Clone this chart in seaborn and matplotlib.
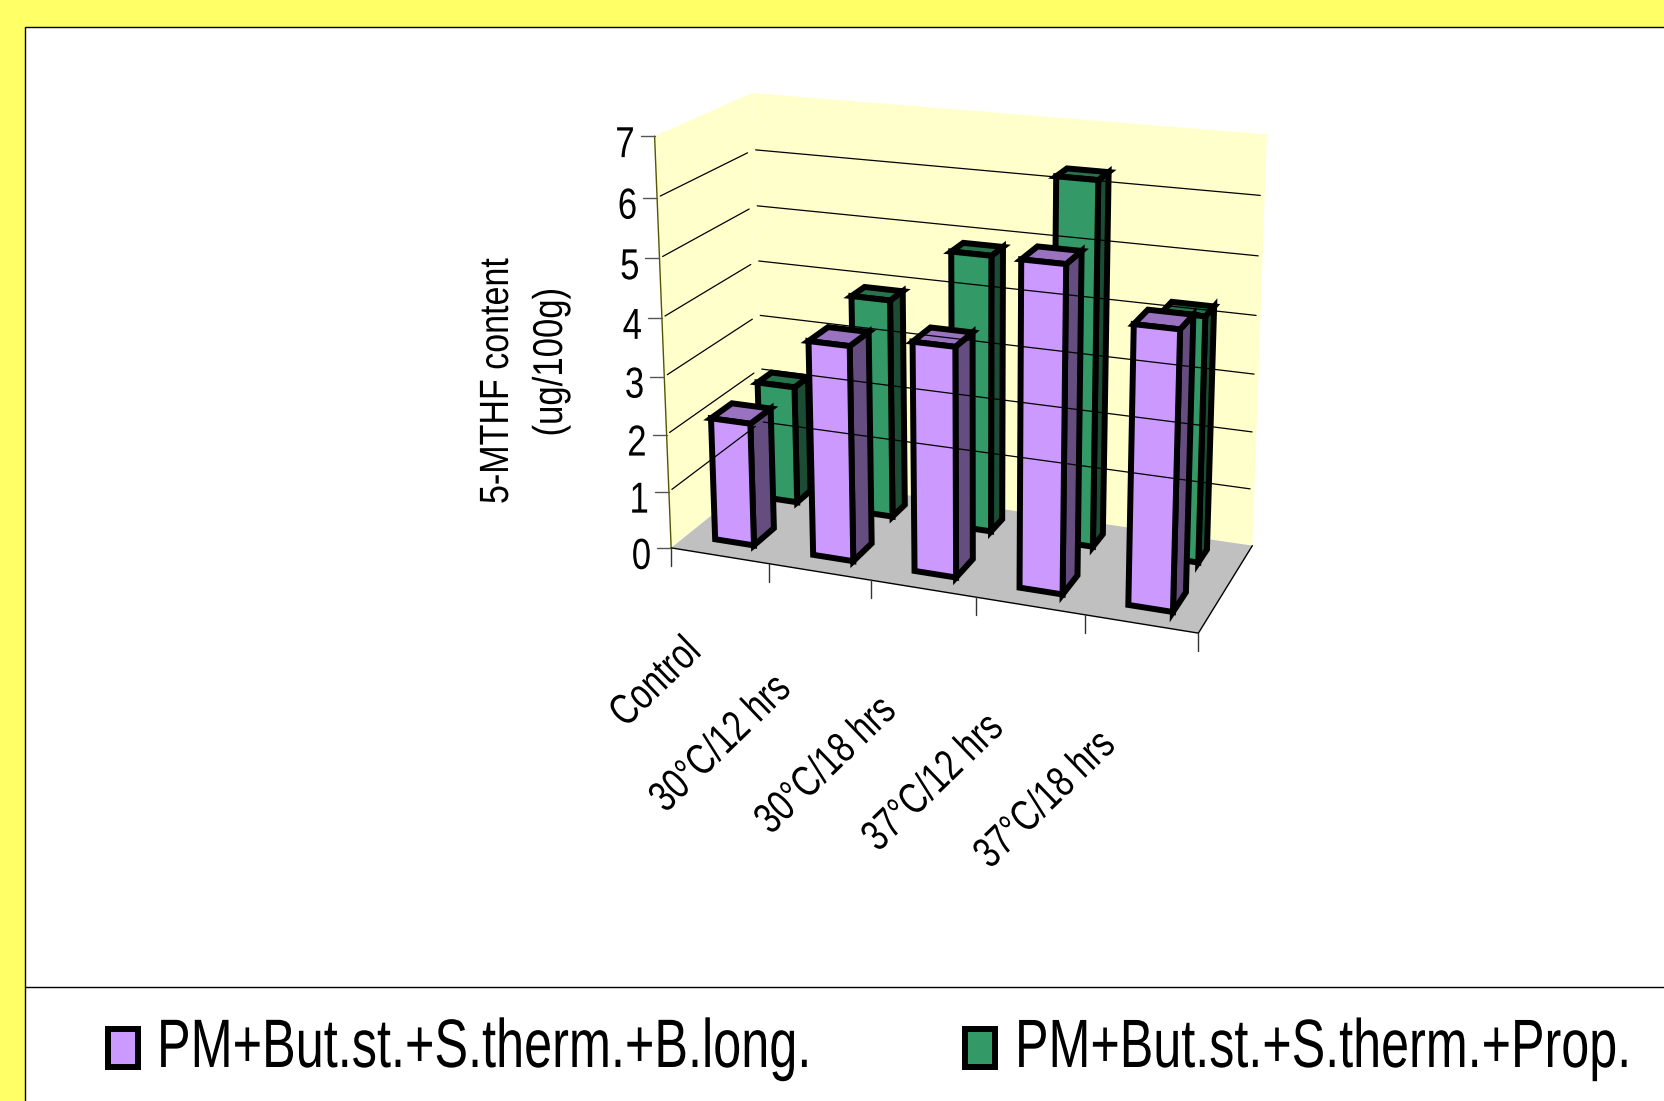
import numpy as np
import pandas as pd
import seaborn as sns
import matplotlib
matplotlib.use('Agg')
import matplotlib.pyplot as plt
from matplotlib.patches import Polygon, Rectangle
from matplotlib.patheffects import AbstractPathEffect
from matplotlib.transforms import Affine2D

# data
categories = ['Control', '30°C/12 hrs', '30°C/18 hrs', '37°C/12 hrs', '37°C/18 hrs']
blong = [2.15, 3.7, 3.9, 5.43, 4.6]
prop = [2.12, 3.88, 4.84, 6.27, 4.21]
series_names = ['PM+But.st.+S.therm.+B.long.', 'PM+But.st.+S.therm.+Prop.']
y_ticks = [0, 1, 2, 3, 4, 5, 6, 7]

sns.set_theme(style='white')
plt.rcParams['font.family'] = ['Liberation Sans', 'DejaVu Sans']
colors = sns.color_palette(['#CC99FF', '#339966'])

df = pd.DataFrame({'category': categories, series_names[0]: blong, series_names[1]: prop})
long_df = df.melt(id_vars='category', var_name='series', value_name='value')


# the reference font is a narrow one, none installed, so stretch the glyphs upward
class Tall(AbstractPathEffect):
    def __init__(self, sy):
        super().__init__()
        self.sy = sy

    def draw_path(self, renderer, gc, tpath, affine, rgbFace=None):
        renderer.draw_path(gc, tpath, Affine2D().scale(1, self.sy) + affine, rgbFace)


# camera fit: (category pos, depth, value) -> pixel, from the corners of the box
world = np.array([[0, 0, 0], [5, 0, 0], [5, 1, 0], [0, 1, 0], [0, 0, 7], [5, 1, 7], [0, 1, 7],
                  [1, 0, 0], [2, 0, 0], [3, 0, 0], [4, 0, 0]], dtype=float)
pixel = np.array([[672, 545], [1205, 633], [1250, 544], [768, 478], [658, 139], [1267, 137],
                  [749, 88], [765, 566], [867, 579], [974, 597], [1085, 614]], dtype=float)
rows = []
for (u, d, z), (px, py) in zip(world, pixel):
    rows.append([u, d, z, 1, 0, 0, 0, 0, -px * u, -px * d, -px * z, -px])
    rows.append([0, 0, 0, 0, u, d, z, 1, -py * u, -py * d, -py * z, -py])
cam = np.linalg.svd(np.array(rows))[2][-1].reshape(3, 4)


def proj(u, d, z):
    p = cam @ np.array([u, d, z, 1.0])
    return p[0] / p[2], p[1] / p[2]


fig = plt.figure(figsize=(16.64, 11.01), dpi=100, facecolor='#FFFF66')
ax = fig.add_axes([0, 0, 1, 1])
ax.set_xlim(0, 1664)
ax.set_ylim(1101, 0)
ax.axis('off')

# slide panel
ax.add_patch(Rectangle((25, 27), 1700, 1100, fc='white', ec='black', lw=1))
ax.plot([25, 1664], [987, 987], color='black', lw=1)

# walls and floor
wall = '#FFFFCC'
ax.add_patch(Polygon([proj(0, 0, 0), proj(0, 0, 7), proj(0, 1, 7), proj(0, 1, 0)], fc=wall, ec='none'))
ax.add_patch(Polygon([proj(0, 1, 0), proj(0, 1, 7), proj(5, 1, 7), proj(5, 1, 0)], fc=wall, ec='none'))
ax.add_patch(Polygon([proj(0, 0, 0), proj(5, 0, 0), proj(5, 1, 0), proj(0, 1, 0)], fc='#C0C0C0', ec='none'))

# grid
for v in y_ticks[1:-1]:
    ax.plot(*zip(proj(0, 0.03, v), proj(0, 0.93, v)), color='black', lw=0.9)
    ax.plot(*zip(proj(0.02, 1, v), proj(4.96, 1, v)), color='black', lw=0.9)

# axes
ax.plot(*zip(proj(0, 0, 0), proj(0, 0, 7)), color='#555500', lw=1)
ax.plot(*zip(proj(0, 0, 0), proj(5, 0, 0)), color='black', lw=1)
ax.plot(*zip(proj(5, 0, 0), proj(5, 1, 0)), color='black', lw=1)
for v in y_ticks:
    x0, y0 = proj(0, 0, v)
    ax.plot([x0 - 14, x0], [y0, y0], color='#555555', lw=1)
    ax.text(x0 - 20, y0 + 21, str(v), ha='right', va='baseline', fontsize=25, color='black',
            path_effects=[Tall(1.25)])
for i in range(len(categories) + 1):
    x0, y0 = proj(i, 0, 0)
    ax.plot([x0, x0], [y0, y0 + 18], color='#333333', lw=1)

label_drop = [98, 119, 124, 124, 123]
label_shift = [-17, -27, -25, -25, -24]
for i, name in enumerate(categories):
    x0, y0 = proj(i + 0.5, 0, 0)
    ax.text(x0 + label_shift[i], y0 + label_drop[i], name, rotation=44, rotation_mode='anchor',
            ha='right', va='baseline', fontsize=24, color='black', path_effects=[Tall(1.3)])

ax.text(508, 381, '5-MTHF content', rotation=90, rotation_mode='anchor', ha='center', va='baseline',
        fontsize=24.5, color='black', path_effects=[Tall(1.2)])
ax.text(562, 362, '(ug/100g)', rotation=90, rotation_mode='anchor', ha='center', va='baseline',
        fontsize=25, color='black', path_effects=[Tall(1.2)])


def shade(c, f):
    return tuple(x * f for x in c)


def draw_bar(u0, u1, d0, d1, val, col):
    style = dict(ec='black', lw=4.3, joinstyle='miter')
    ax.add_patch(Polygon([proj(u1, d0, 0), proj(u1, d1, 0), proj(u1, d1, val), proj(u1, d0, val)],
                         fc=shade(col, 0.5), **style))
    ax.add_patch(Polygon([proj(u0, d0, val), proj(u1, d0, val), proj(u1, d1, val), proj(u0, d1, val)],
                         fc=shade(col, 0.75), **style))
    ax.add_patch(Polygon([proj(u0, d0, 0), proj(u1, d0, 0), proj(u1, d0, val), proj(u0, d0, val)],
                         fc=col, **style))


# back row first, then front row
rows_3d = {series_names[1]: (0.24, 0.63, 0.72, 0.88), series_names[0]: (0.29, 0.69, 0.165, 0.385)}
for s, col in zip(series_names[::-1], colors[::-1]):
    part = long_df[long_df['series'] == s]
    a, b, d0, d1 = rows_3d[s]
    for i, val in reversed(list(enumerate(part['value']))):
        draw_bar(i + a, i + b, d0, d1, val, col)

# legend
for s, col, bx, tx, fs in zip(series_names, colors, [107.5, 965], [157, 1015], [36.3, 36.2]):
    ax.add_patch(Rectangle((bx, 1029), 30, 38, fc=col, ec='black', lw=4.3))
    ax.text(tx, 1067, s, ha='left', va='baseline', fontsize=fs, color='black', path_effects=[Tall(1.36)])

fig.savefig('out.png', dpi=100, facecolor=fig.get_facecolor())
